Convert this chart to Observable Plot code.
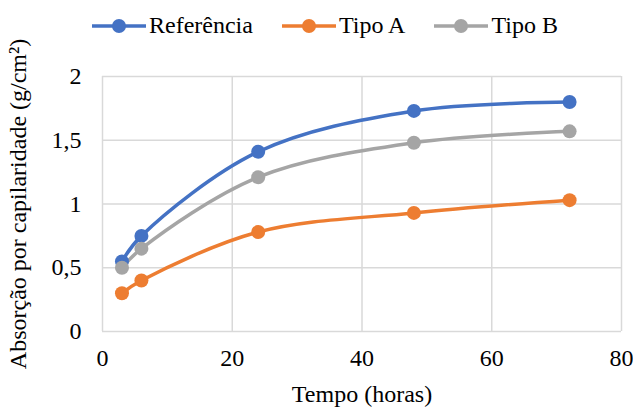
<!DOCTYPE html>
<html>
<head>
<meta charset="utf-8">
<script src="https://cdn.jsdelivr.net/npm/d3@7"></script>
<script src="https://cdn.jsdelivr.net/npm/@observablehq/plot@0.6"></script>
</head>
<body style="margin:0;padding:0;background:#fff;font-family:'Liberation Serif'">
<div id="wrap" style="position:relative;width:633px;height:407px;font-family:'Liberation Serif'">
  <div id="legend" style="position:absolute;left:92px;top:12px;display:flex;align-items:center;gap:29px;font-size:24px;color:#000;font-family:'Liberation Serif'"></div>
</div>
<script>
// Capillary absorption (g/cm²) measured over time (hours)
const hours = [3, 6, 24, 48, 72];
const referencia = [0.55, 0.75, 1.41, 1.73, 1.80];
const tipoA = [0.30, 0.40, 0.78, 0.93, 1.03];
const tipoB = [0.50, 0.65, 1.21, 1.48, 1.57];

const seriesNames = ["Referência", "Tipo A", "Tipo B"];
const seriesColors = ["#4472C4", "#ED7D31", "#A5A5A5"];
const xTicks = [0, 20, 40, 60, 80];
const yTicks = [0, 0.5, 1, 1.5, 2];

const FONT = "Liberation Serif";

const valuesBySeries = [referencia, tipoA, tipoB];
const data = seriesNames.flatMap((name, i) =>
  hours.map((h, j) => ({series: name, hours: h, value: valuesBySeries[i][j]}))
);

const gridStyle = {stroke: "#d9d9d9", strokeOpacity: 1, strokeWidth: 1.5};

const chart = Plot.plot({
  width: 633,
  height: 407,
  marginLeft: 102,
  marginRight: 12,
  marginTop: 76,
  marginBottom: 76,
  style: `font-family:'${FONT}';font-size:24px;color:#000;background:transparent`,
  x: {domain: [0, 80]},
  y: {domain: [0, 2]},
  color: {domain: seriesNames, range: seriesColors},
  marks: [
    Plot.gridX(xTicks, gridStyle),
    Plot.gridY(yTicks, gridStyle),
    Plot.axisX(xTicks, {
      tickSize: 0, tickPadding: 17, fontFamily: FONT, fontSize: 24,
      label: "Tempo (horas)", labelAnchor: "center", labelArrow: "none", labelOffset: 70
    }),
    Plot.axisY(yTicks, {
      tickSize: 0, tickPadding: 21, fontFamily: FONT, fontSize: 24,
      tickFormat: d => String(d).replace(".", ","),
      label: "Absorção por capilaridade (g/cm²)", labelAnchor: "center", labelArrow: "none", labelOffset: 94
    }),
    Plot.line(data, {x: "hours", y: "value", z: "series", stroke: "series", strokeWidth: 3.5, curve: "catmull-rom"}),
    Plot.dot(data, {x: "hours", y: "value", fill: "series", r: 7})
  ]
});

const wrap = document.getElementById("wrap");
wrap.insertBefore(chart, wrap.firstChild);

// Legend: a short line with a marker, then the series name
const legend = document.getElementById("legend");
seriesNames.forEach((name, i) => {
  const item = document.createElement("div");
  item.style.cssText = `display:flex;align-items:center;gap:3px;font-family:'${FONT}'`;
  item.innerHTML =
    `<svg width="54" height="20"><line x1="0" y1="10" x2="54" y2="10" stroke="${seriesColors[i]}" stroke-width="3.5"/>` +
    `<circle cx="27" cy="10" r="7" fill="${seriesColors[i]}"/></svg><span style="font-family:'${FONT}'">${name}</span>`;
  legend.appendChild(item);
});
</script>
</body>
</html>
